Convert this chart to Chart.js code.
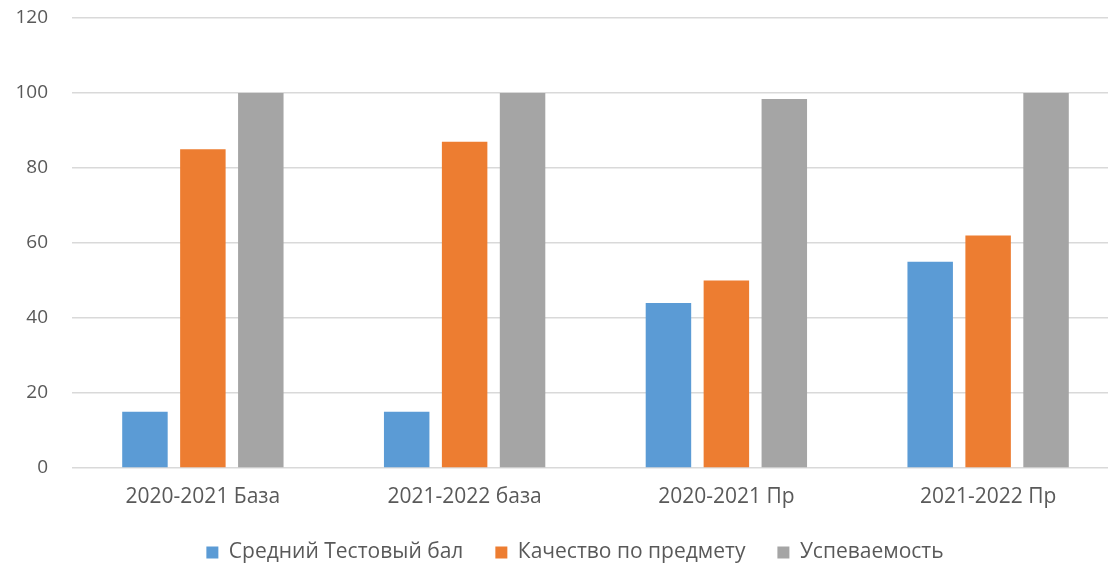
<!DOCTYPE html>
<html>
<head>
<meta charset="utf-8">
<script src="https://cdn.jsdelivr.net/npm/chart.js@4"></script>
<style>
html,body{margin:0;padding:0;background:#fff;}
#wrap{width:1108px;height:569px;overflow:hidden;}
</style>
</head>
<body>
<div id="wrap"><canvas id="c" width="1108" height="569"></canvas></div>
<script>
const categories = ["2020-2021 База", "2021-2022 база", "2020-2021 Пр", "2021-2022 Пр"];
const seriesNames = ["Средний Тестовый бал", "Качество по предмету", "Успеваемость"];
const avgScore = [15, 15, 44, 55];
const quality = [85, 87, 50, 62];
const success = [100, 100, 98.4, 100];
const yTicks = [0, 20, 40, 60, 80, 100, 120];

const font = "'Open Sans', 'Liberation Sans', sans-serif";

// The original plot area runs slightly past the right edge of the picture.
const layoutTweak = {
  id: 'layoutTweak',
  afterLayout(chart) {
    const x = chart.scales.x;
    x.right += 11; x.width += 11; x.configure();
    chart.chartArea.right += 11; chart.chartArea.width += 11;
    if (chart.legend) { chart.legend.left += 14; chart.legend.right += 14; }
  }
};

new Chart(document.getElementById('c'), {
  type: 'bar',
  data: {
    labels: categories,
    datasets: [
      {label: seriesNames[0], data: avgScore, backgroundColor: '#5b9bd5'},
      {label: seriesNames[1], data: quality, backgroundColor: '#ed7d31'},
      {label: seriesNames[2], data: success, backgroundColor: '#a5a5a5'}
    ]
  },
  plugins: [layoutTweak],
  options: {
    responsive: false,
    animation: false,
    layout: {padding: {top: 0, right: 0, left: 14, bottom: -4}},
    datasets: {bar: {categoryPercentage: 0.664, barPercentage: 0.785}},
    plugins: {
      legend: {
        position: 'bottom',
        labels: {
          boxWidth: 12, boxHeight: 12, padding: 32,
          color: '#595959',
          font: {family: font, size: 21}
        }
      },
      tooltip: {enabled: false}
    },
    scales: {
      x: {
        grid: {display: false, drawTicks: false},
        border: {display: false},
        ticks: {color: '#595959', font: {family: font, size: 21}, padding: 16},
        afterFit: axis => { axis.height = 42; }
      },
      y: {
        min: 0, max: 120,
        afterBuildTicks: axis => { axis.ticks = yTicks.map(v => ({value: v})); },
        afterFit: axis => { axis.width = 58; axis.paddingTop = 18; },
        grid: {color: '#d9d9d9', lineWidth: 1.5, drawTicks: false},
        border: {display: false},
        ticks: {color: '#595959', font: {family: font, size: 19}, padding: 24}
      }
    }
  }
});
</script>
</body>
</html>
